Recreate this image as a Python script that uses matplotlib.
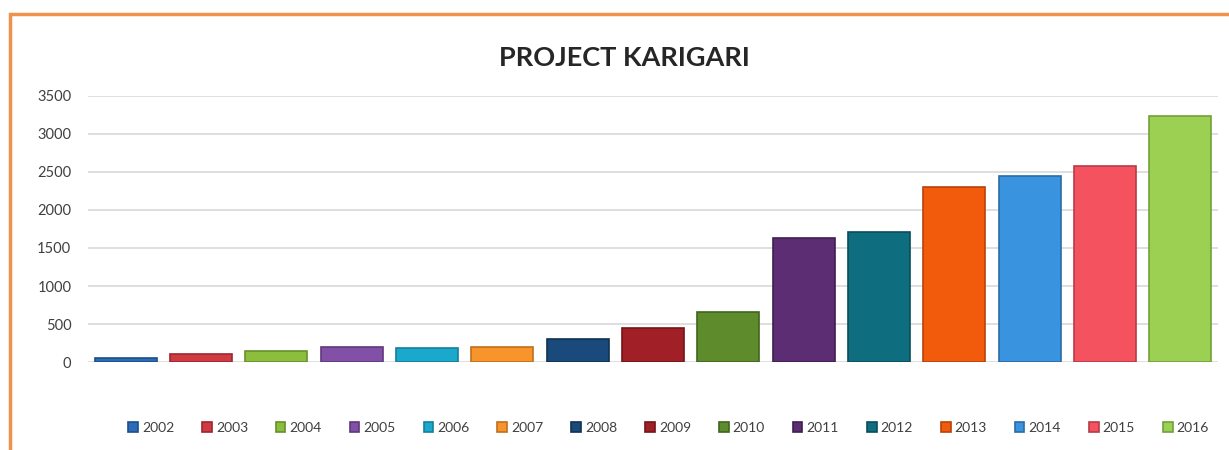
import numpy as np
import matplotlib
matplotlib.use("Agg")
from matplotlib import pyplot as plt
from matplotlib.patches import Rectangle

plt.rcParams['font.family'] = ['Lato', 'DejaVu Sans']

# Data
years = ['2002', '2003', '2004', '2005', '2006', '2007', '2008', '2009',
         '2010', '2011', '2012', '2013', '2014', '2015', '2016']
values = [50, 100, 150, 200, 180, 200, 300, 450,
          655, 1630, 1705, 2300, 2450, 2580, 3240]
colors = ['#2a6cb8', '#d23a42', '#8cbd3c', '#8250a6', '#1aa9cc', '#f7952c',
          '#1a4a7c', '#a11f26', '#5e8c2c', '#5c2d72', '#0f6d80', '#f25a0c',
          '#3a93de', '#f5525f', '#9bd052']
edges = ['#1d4f88', '#9a2830', '#66902a', '#5e3a7a', '#14809a', '#c06f1c',
         '#10324f', '#741418', '#41651e', '#3f1f50', '#0a4d5a', '#b8420a',
         '#2a6ca6', '#b83b46', '#73a03a']

fig = plt.figure(figsize=(12.29, 4.5), dpi=100)

# orange frame
fig.patches.append(Rectangle((10 / 1229, -0.1), 1.2, 481 / 450,
                             transform=fig.transFigure, fill=False,
                             edgecolor='#f0924e', linewidth=2.5, zorder=0))

ax = fig.add_axes([88 / 1229, (450 - 362) / 450, (1218 - 88) / 1229, 266 / 450])
x = np.arange(len(years))
for i in range(len(years)):
    ax.bar(x[i], values[i], width=0.82, color=colors[i], edgecolor=edges[i],
           linewidth=1.2, label=years[i], zorder=3)

ax.set_xlim(-0.5, len(years) - 0.5)
ax.set_ylim(0, 3500)
ax.set_yticks(np.arange(0, 3501, 500))
ax.set_xticks([])
ax.grid(axis='y', color='#dcdcdc', linewidth=1.3, zorder=0)
for s in ax.spines.values():
    s.set_visible(False)
ax.tick_params(axis='y', length=0, pad=12, labelsize=10.5, labelcolor='#404040')

fig.text(0.508, 0.872, 'PROJECT KARIGARI', ha='center', va='center',
         fontsize=19.5, fontweight='bold', color='#262626')

fig.legend(loc='center', bbox_to_anchor=(0.544, 0.05), ncol=len(years),
           frameon=False, fontsize=10, handlelength=0.7, handleheight=0.7,
           handletextpad=0.3, columnspacing=2.0, labelcolor='#404040')

fig.savefig('out.png', dpi=100, facecolor='white')
